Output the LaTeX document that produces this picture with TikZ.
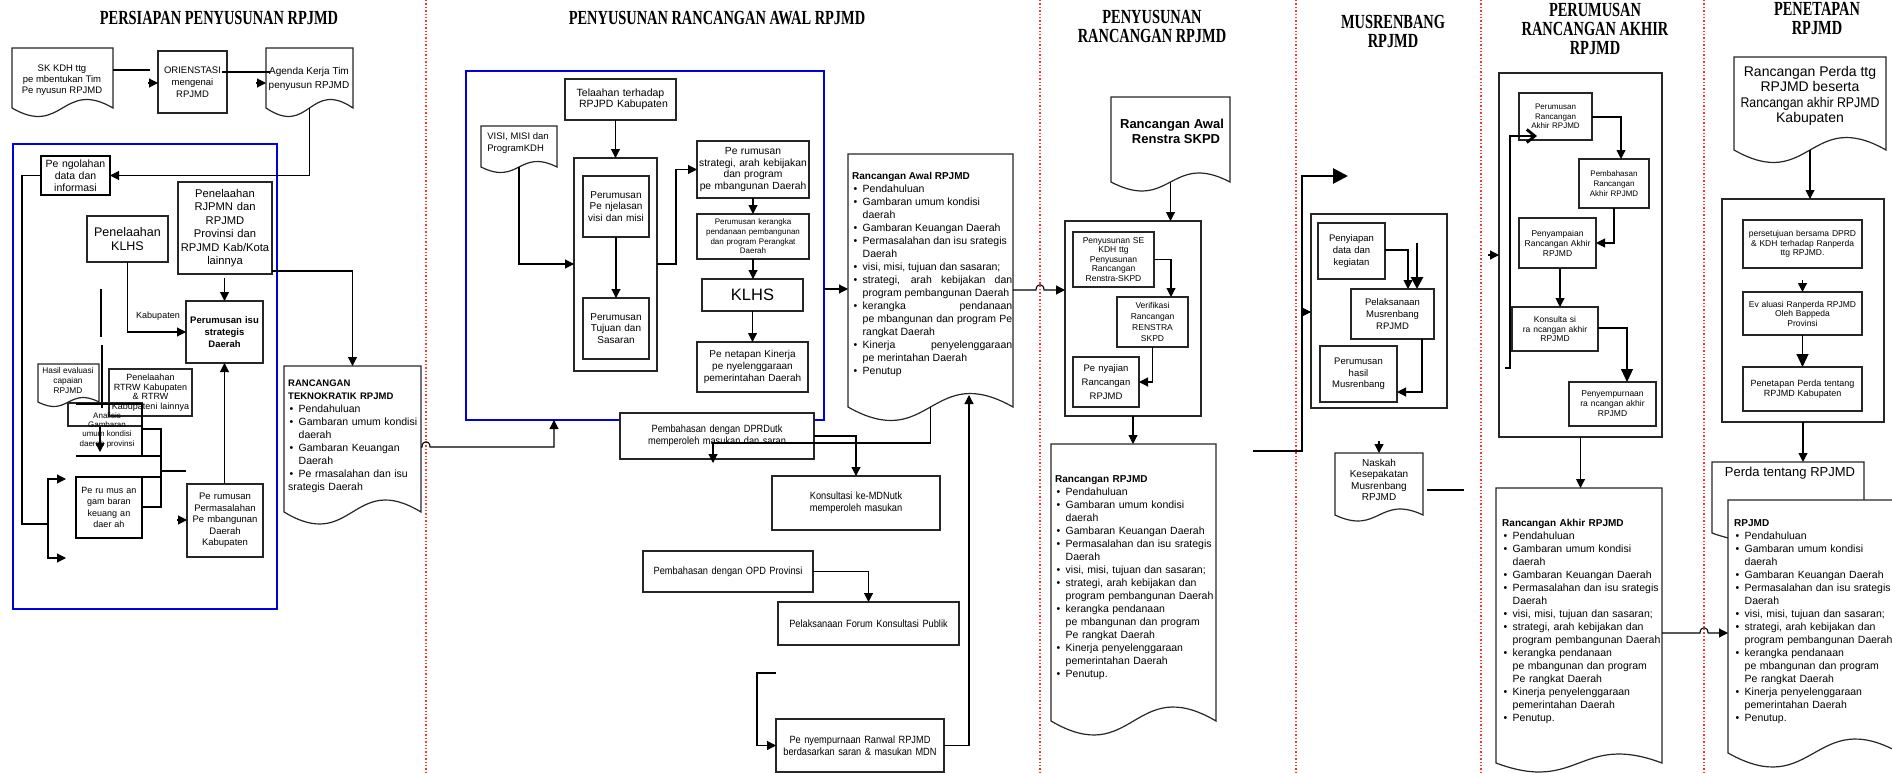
\documentclass[tikz,border=0pt]{standalone}
\usepackage{fontspec}
\setmainfont{Liberation Sans}
\newfontfamily\titlefont{Liberation Serif}[FakeStretch=0.72]
\newfontfamily\condfont{Liberation Sans}[FakeStretch=0.88]
\usetikzlibrary{arrows.meta}
\newcommand\fz[2]{\fontsize{#1}{#2}\selectfont}
\newlength\bhang
\setlength\bhang{10.5pt}
\newcommand\itm[1]{\par\noindent\hangindent=\bhang\hangafter=1\relax\makebox[\bhang][l]{\hspace{1.5pt}\textbullet}#1}
\newcommand\stdlist{\itm{Pendahuluan}\itm{Gambaran umum kondisi\newline daerah}\itm{Gambaran Keuangan Daerah}\itm{Permasalahan dan isu srategis\newline Daerah}\itm{visi, misi, tujuan dan sasaran;}\itm{strategi, arah kebijakan dan\newline program pembangunan Daerah}\itm{kerangka pendanaan\newline pe mbangunan dan program\newline Pe rangkat Daerah}\itm{Kinerja penyelenggaraan\newline pemerintahan Daerah}\itm{Penutup.}}
\tikzset{
 box/.style={draw=black!85, line width=1.2pt, fill=white, inner xsep=1pt, inner ysep=0pt, outer sep=0pt, align=center, font=\fz{10}{11.5}},
 thickbox/.style={line width=2.4pt, draw=black},
 frame/.style={draw=blue!90!black, line width=1.4pt, fill=none},
 docline/.style={draw=black!85, line width=1.2pt, fill=white},
 conn/.style={draw=black, line width=1.1pt},
 arr/.style={conn, -{Triangle[length=9pt,width=9pt]}},
 bigarr/.style={conn, -{Triangle[length=13pt,width=12pt]}},
 heavy/.style={draw=black, line width=2.8pt},
 sepline/.style={draw=red!80, line width=1.2pt, dash pattern=on 1.4pt off 2pt},
 title/.style={font=\titlefont\bfseries\fz{20}{19}, align=center, inner sep=0pt},
 lbl/.style={inner sep=0pt, align=center},
 blist/.style={inner sep=0pt, anchor=north west, align=left, font=\fz{10.5}{13}},
}
\newcommand\bx[7][]{%
  \pgfmathsetmacro\bxW{#5-#3}%
  \pgfmathsetmacro\bxH{#6-#4}%
  \pgfmathsetmacro\bxT{#5-#3-2}%
  \pgfmathsetmacro\bxX{(#3+#5)/2}%
  \pgfmathsetmacro\bxY{(#4+#6)/2}%
  \node[box,minimum width=\bxW pt,minimum height=\bxH pt,text width=\bxT pt,#1] (#2) at (\bxX,\bxY) {#7};%
}
\newcommand\docshape[6]{%
  \pgfmathsetmacro\dsW{#4-#2}%
  \pgfmathsetmacro\dsH{#5-#3}%
  \pgfmathsetmacro\dsX{(#2+#4)/2}%
  \pgfmathsetmacro\dsY{(#3+#5)/2}%
  \pgfmathsetmacro\dsU{#5-3.46*#6}%
  \pgfmathsetmacro\dsD{#5+3.46*#6}%
  \draw[docline] (#2,#5) -- (#2,#3) -- (#4,#3) -- (#4,#5) .. controls (\dsX,\dsU) and (\dsX,\dsD) .. (#2,#5) -- cycle;%
  \node[inner sep=0pt,outer sep=0pt,minimum width=\dsW pt,minimum height=\dsH pt] (#1) at (\dsX,\dsY) {};%
}
\begin{document}
\begin{tikzpicture}[x=1pt,y=-1pt]
\useasboundingbox (0,0) rectangle (1892,773);
\clip (0,0) rectangle (1892,773);
\foreach \sx in {426,1040,1296,1481,1704}{\draw[sepline] (\sx,0) -- (\sx,773);}
% titles
\node[title] (t1) at (219,18) {PERSIAPAN PENYUSUNAN RPJMD};
\node[title] (t2) at (717,18) {PENYUSUNAN RANCANGAN AWAL RPJMD};
\node[title] (t3) at (1152,26.5) {PENYUSUNAN\\RANCANGAN RPJMD};
\node[title] (t4) at (1393,31.5) {MUSRENBANG\\RPJMD};
\node[title] (t5) at (1595,28.5) {PERUMUSAN\\RANCANGAN AKHIR\\RPJMD};
\node[title] (t6) at (1817,18) {PENETAPAN\\RPJMD};
% ---------- section 1
\docshape{sk}{12}{48}{113}{108}{8.5}
\node[lbl,font=\fz{9.5}{11}] (skt) at (62,80) {SK KDH ttg\\pe mbentukan Tim\\Pe nyusun RPJMD};
\bx[font=\fz{9.5}{12}]{ori}{158}{51}{227}{113}{ORIENSTASI\\mengenai\\RPJMD}
\docshape{agd}{266}{48}{353}{108}{8.5}
\node[lbl,font=\fz{10}{14}] (agdt) at (309,79) {Agenda Kerja Tim\\penyusun RPJMD};
\bx[frame]{fr1}{13}{144}{277}{609}{}
\bx[thickbox,font=\fz{10.5}{12}]{peng}{41}{156}{110}{195}{Pe ngolahan\\data dan\\informasi}
\bx[font=\fz{11.2}{13.5}]{rjp}{178}{182}{272}{274}{Penelaahan\\RJPMN dan\\RPJMD\\Provinsi dan\\RPJMD Kab/Kota\\lainnya}
\bx[font=\fz{12.5}{14}]{pklhs}{87}{216}{168}{262}{Penelaahan\\KLHS}
\bx[font=\bfseries\fz{9.5}{12}]{isu}{186}{301}{263}{363}{Perumusan isu\\strategis\\Daerah}
\node[lbl,font=\fz{9}{10}] (kab) at (158,316) {Kabupaten};
\docshape{hasil}{38}{364}{99}{402}{4.5}
\node[lbl,font=\fz{8.3}{10}] (hasilt) at (68,381) {Hasil evaluasi\\capaian\\RPJMD};
\bx[fill=none,font=\fz{9}{9.5}]{rtrw}{109}{369}{192}{416}{Penelaahan\\RTRW Kabupaten\\\& RTRW\\Kabupateni lainnya}
\bx[fill=none]{anl}{68}{403}{142}{426}{}
\draw[heavy] (76,404) -| (142,456);
\draw[heavy] (76,456) -- (161,456);
\draw[heavy] (142,429) -| (161,507) -- (142,507);
\draw[heavy] (161,471) -- (186,471);
\draw[heavy] (76,477) -- (161,477);
\node[lbl,font=\fz{8}{9.3}] (anlt) at (107,430) {Analisis\\Gambaran\\umum kondisi\\daerah provinsi};
\bx[thickbox,font=\fz{9}{11.3}]{keu}{76}{477}{142}{538}{Pe ru mus an\\gam baran\\keuang an\\daer ah}
\bx[font=\fz{9.5}{11.5}]{masl}{187}{484}{263}{557}{Pe rumusan\\Permasalahan\\Pe mbangunan\\Daerah\\Kabupaten}
\docshape{tek}{284}{366}{421}{512}{12}
\node[blist,text width=135pt] (tekt) at (288,380) {\noindent\textbf{\fz{9.5}{13}RANCANGAN\newline TEKNOKRATIK RPJMD}\itm{Pendahuluan}\itm{Gambaran umum kondisi\newline daerah}\itm{Gambaran Keuangan\newline Daerah}\itm{Pe rmasalahan dan isu\newline srategis Daerah}};
% ---------- section 2
\bx[frame]{fr2}{466}{71}{824}{420}{}
\bx[font=\fz{10.5}{11.5}]{tel}{565}{79}{676}{120}{Telaahan terhadap\\\hspace*{6pt}RPJPD Kabupaten}
\docshape{visi}{481}{126}{557}{167}{5.5}
\node[lbl,align=left,font=\fz{9.5}{11.5}] (visit) at (518,143) {VISI, MISI dan\\ProgramKDH};
\bx{pvm}{574}{158}{657}{371}{}
\bx[font=\fz{10}{11.5}]{pjl}{583}{176}{649}{237}{Perumusan\\Pe njelasan\\visi dan misi}
\bx[font=\fz{10}{11.7}]{tuj}{583}{298}{649}{359}{Perumusan\\Tujuan dan\\Sasaran}
\bx[font=\fz{10.3}{11.5}]{str}{697}{141}{809}{198}{Pe rumusan\\strategi, arah kebijakan\\dan program\\pe mbangunan Daerah}
\bx[font=\fz{8}{9.7}]{krk}{697}{214}{809}{259}{Perumusan kerangka\\pendanaan pembangunan\\dan program Perangkat\\Daerah}
\bx[font=\fz{16.5}{18}]{klhs}{702}{279}{803}{311}{KLHS}
\bx[font=\fz{10}{11.7}]{kin}{697}{342}{808}{392}{Pe netapan Kinerja\\pe nyelenggaraan\\pemerintahan Daerah}
\docshape{awal}{848}{154}{1013}{407}{13.5}
\node[blist,align=justify,text width=160pt] (awalt) at (852,172) {\hyphenpenalty=10000\noindent\textbf{\fz{10}{13}Rancangan Awal RPJMD}%
\itm{Pendahuluan}%
\itm{Gambaran umum kondisi\newline daerah}%
\itm{Gambaran Keuangan Daerah}%
\itm{Permasalahan dan isu srategis\newline Daerah}%
\itm{visi, misi, tujuan dan sasaran;}%
\itm{strategi, arah kebijakan dan\linebreak program pembangunan Daerah}%
\itm{kerangka pendanaan\linebreak pe mbangunan dan program Pe\linebreak rangkat Daerah}%
\itm{Kinerja penyelenggaraan\linebreak pe merintahan Daerah}%
\itm{Penutup}};
\bx[font=\condfont\fz{10.5}{11.7}]{dprd}{620}{413}{814}{459}{Pembahasan dengan DPRDutk\\memperoleh masukan dan saran}
\bx[font=\condfont\fz{10.5}{11.7}]{kmd}{772}{476}{940}{530}{Konsultasi ke-MDNutk\\memperoleh masukan}
\bx[font=\condfont\fz{10.5}{11.7}]{opd}{643}{551}{813}{592}{Pembahasan dengan OPD Provinsi}
\bx[font=\condfont\fz{10.5}{11.7}]{frm}{778}{602}{959}{645}{Pelaksanaan Forum Konsultasi Publik}
\bx[font=\condfont\fz{10.5}{11.7}]{pny}{776}{719}{944}{772}{Pe nyempurnaan Ranwal RPJMD\\berdasarkan saran \& masukan MDN}
% ---------- section 3
\docshape{ren}{1111}{97}{1230}{182}{9}
\node[lbl,font=\bfseries\fz{13}{15}] (rent) at (1172,131) {Rancangan Awal\\\hspace*{8pt}Renstra SKPD};
\bx{pen3}{1065}{221}{1201}{416}{}
\bx[font=\fz{8.5}{9.5}]{se}{1073}{232}{1154}{287}{Penyusunan SE\\KDH ttg\\Penyusunan\\Rancangan\\Renstra-SKPD}
\bx[font=\fz{8.5}{11.3}]{ver}{1117}{297}{1188}{347}{Verifikasi\\Rancangan\\RENSTRA\\SKPD}
\bx[font=\fz{9.5}{14}]{pyj}{1073}{357}{1139}{407}{Pe nyajian\\Rancangan\\RPJMD}
\docshape{rr}{1051}{444}{1216}{721}{14}
\node[blist,text width=165pt] (rrt) at (1055,475) {\noindent\textbf{\fz{10}{13}Rancangan RPJMD}\stdlist};
% ---------- section 4
\bx{mus}{1311}{214}{1447}{408}{}
\bx[font=\fz{9.5}{11.7}]{psp}{1318}{223}{1385}{279}{Penyiapan\\data dan\\kegiatan}
\bx[font=\fz{9.5}{11.7}]{pls}{1351}{289}{1434}{339}{Pelaksanaan\\Musrenbang\\RPJMD}
\bx[font=\fz{9.5}{11.7}]{phm}{1320}{346}{1397}{402}{Perumusan\\hasil\\Musrenbang}
\docshape{nsk}{1335}{453}{1423}{515}{6}
\node[lbl,font=\fz{10}{11.5}] (nskt) at (1379,480) {Naskah\\Kesepakatan\\Musrenbang\\RPJMD};
% ---------- section 5
\bx{akh}{1499}{73}{1662}{437}{}
\bx[font=\fz{8}{9.5}]{pra}{1519}{93}{1592}{140}{Perumusan\\Rancangan\\Akhir RPJMD}
\bx[font=\fz{8}{10}]{pba}{1579}{159}{1649}{208}{Pembahasan\\Rancangan\\Akhir RPJMD}
\bx[font=\fz{8.5}{10}]{psy}{1519}{218}{1596}{268}{Penyampaian\\Rancangan Akhir\\RPJMD}
\bx[font=\fz{8.5}{9.5}]{kns}{1512}{307}{1598}{351}{Konsulta si\\ra ncangan akhir\\RPJMD}
\bx[font=\fz{8.5}{10}]{pyr}{1569}{382}{1656}{426}{Penyempurnaan\\ra ncangan akhir\\RPJMD}
\docshape{rak}{1496}{488}{1662}{763}{9}
\node[blist,text width=165pt] (rakt) at (1502,519) {\noindent\textbf{\fz{10}{13}Rancangan Akhir RPJMD}\stdlist};
% ---------- section 6
\docshape{rpd}{1734}{57}{1886}{150}{12.5}
\node[lbl,font=\fz{14}{15.5}] (rpdt) at (1810,96) {Rancangan Perda ttg\\RPJMD beserta\\{\condfont Rancangan akhir RPJMD}\\Kabupaten};
\bx{pnt}{1722}{199}{1884}{422}{}
\bx[font=\fz{8.5}{9.5}]{pst}{1743}{220}{1862}{268}{persetujuan bersama DPRD\\\& KDH terhadap Ranperda\\ttg RPJMD.}
\bx[font=\fz{8.5}{9.5}]{evl}{1743}{292}{1862}{335}{Ev aluasi Ranperda RPJMD\\Oleh Bappeda\\Provinsi}
\bx[font=\fz{9}{9.5}]{ptp}{1743}{367}{1862}{411}{Penetapan Perda tentang\\RPJMD Kabupaten}
\docshape{prd}{1712}{462}{1864}{533}{8}
\node[lbl,font=\fz{13}{15}] (prdt) at (1790,473) {Perda tentang RPJMD};
\docshape{rpj}{1728}{500}{1900}{753}{14}
\node[blist,text width=160pt] (rpjt) at (1734,519) {\noindent\textbf{\fz{10}{13}RPJMD}\stdlist};
% ================= connectors
% section 1
\draw[conn] (sk.east |- 0,70) -- (150,70);
\draw[arr] (148,83) -- (ori.west |- 0,83);
\draw[conn] (ori.east |- 0,72) ++(-5,0) -- (270,72);
\draw[arr] (256,83) -- (agd.west |- 0,83);
\draw[arr] (agd.south) |- (peng.east);
\draw[arr] (isu.north |- 0,278) -- (isu.north);
\draw[arr] (pklhs.south) |- (isu.west);
\draw[conn] (101,289) -- (101,337);
\draw[conn] (102,345) -- (102,408);
\draw[conn] (peng.west) -| (22,524) -- (48,524);
\draw[arr] (48,524) |- (66,479);
\draw[arr] (48,524) |- (66,558);
\draw[arr] (100,427) -- (100,452);
\draw[arr] (177,520) -- (masl.west |- 0,520);
\draw[arr] (isu.south |- masl.north) -- (isu.south);
\draw[arr] (rjp.east |- 0,271) -| (tek.north);
\draw[arr] (tek.east |- 0,447) -- (422,447) .. controls (422,440) and (430,440) .. (430,447) -| (554,0 |- fr2.south);
% section 2
\draw[arr] (pvm.north |- tel.south) -- (pvm.north);
\draw[arr] (pjl.south) -- (tuj.north);
\draw[arr] (visi.south) |- (pvm.west |- 0,264);
\draw[arr] (pvm.east |- 0,264) -| (676,169.5) -- (str.west);
\draw[arr] (str.south) -- (krk.north);
\draw[arr] (krk.south) -- (krk.south |- klhs.north);
\draw[arr] (klhs.south) -- (klhs.south |- kin.north);
\draw[arr] (fr2.east |- 0,289) -- (awal.west |- 0,289);
\draw[arr] (awal.south) -- (awal.south |- 0,443) -| (713,463);
\draw[arr] (dprd.east) -| (kmd.north);
\draw[arr] (opd.east) -| (frm.north);
\draw[arr] (776,673) -- (757,673) |- (pny.west);
\draw[arr] (pny.east) -| (969,395);
% section 3
\draw[arr] (ren.south) -- (ren.south |- pen3.north);
\draw[arr] (se.east) -| (1171,0 |- ver.north);
\draw[arr] (ver.south) |- (pyj.east);
\draw[arr] (pen3.south) -- (pen3.south |- rr.north);
\draw[arr] (awal.east |- 0,290) -- (1036,290) .. controls (1036,283) and (1044,283) .. (1044,290) -- (pen3.west |- 0,290);
% section 4
\draw[heavy,-{Triangle[length=15pt,width=15pt]}] (1253,451) -- (1302,451) -- (1302,176) -- (1348,176);
\draw[arr] (1301,312) -- (mus.west |- 0,312);
\draw[arr] (psp.east |- 0,250) -| (1408,0 |- pls.north);
\draw[heavy,-{Triangle[length=12pt,width=12pt]}] (1417,243) -- (1417,0 |- pls.north);
\draw[arr] (1422,0 |- pls.south) |- (phm.east |- 0,392);
\draw[arr] (1379,441) -- (1379,0 |- nsk.north);
\draw[conn] (1427,490) -- (1464,490);
% section 5
\draw[arr] (pra.east |- 0,117) -| (1621,0 |- pba.north);
\draw[arr] (1614,0 |- pba.south) |- (psy.east);
\draw[arr] (1560,0 |- psy.south) -- (1560,0 |- kns.north);
\draw[bigarr] (kns.east |- 0,328) -| (1627,0 |- pyr.north);
\draw[line width=2.8pt,-{Straight Barb[length=8pt,width=13pt]}] (1505,368) -| (1510,136) -- (1537,136);
\draw[arr] (1488,255) -- (akh.west |- 0,255);
\draw[arr] (akh.south) -- (akh.south |- rak.north);
\draw[arr] (rak.east |- 0,633) -- (1700,633) .. controls (1700,626) and (1708,626) .. (1708,633) -- (rpj.west |- 0,633);
% section 6
\draw[arr] (rpd.south) -- (rpd.south |- pnt.north);
\draw[arr] (evl.north |- 0,280) -- (evl.north);
\draw[bigarr] (evl.south) -- (ptp.north);
\draw[arr] (pnt.south) -- (pnt.south |- prd.north);
\end{tikzpicture}
\end{document}
